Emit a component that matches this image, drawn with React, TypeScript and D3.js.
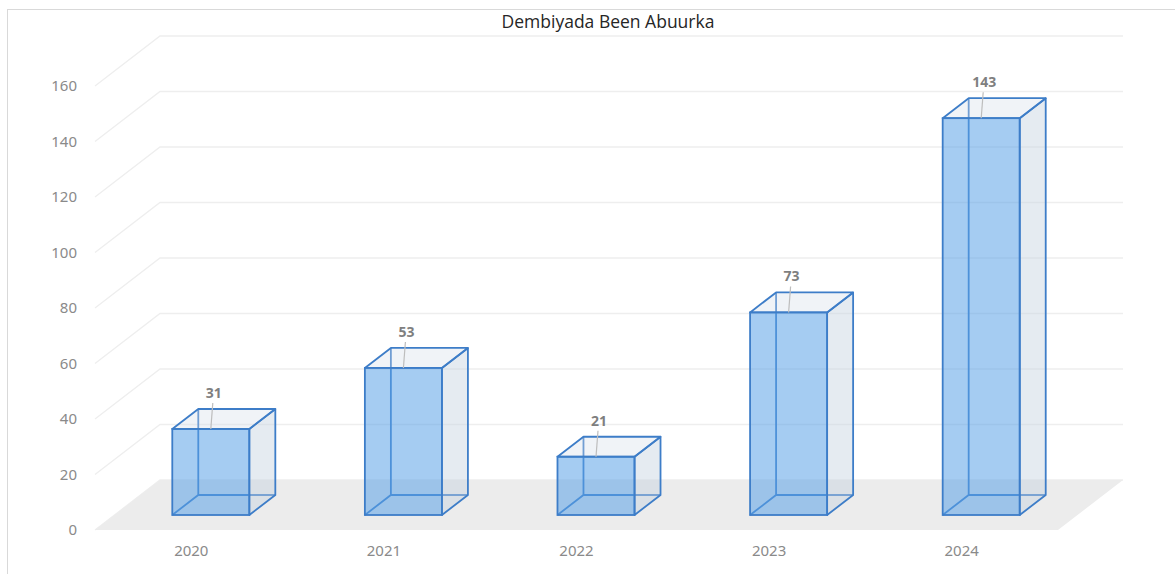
import React from "react"
import * as d3 from "d3"

const years = ["2020", "2021", "2022", "2023", "2024"]
const births = [31, 53, 21, 73, 143]
const yTicks = [0, 20, 40, 60, 80, 100, 120, 140, 160]
const chartTitle = "Dembiyada Been Abuurka"

const W = 1175
const H = 574
// 3D depth offset of the floor / back wall
const depthX = 65
const depthY = -50
// bars sit between 30% and 70% of the depth
const barD0 = 0.3
const barD1 = 0.7

const App: React.FC = () => {
	const x_scale = d3
		.scaleBand()
		.domain(years)
		.range([95, 1058])
		.paddingInner(0.6)
		.paddingOuter(0.3)

	const y_scale = d3.scaleLinear().domain([0, 160]).range([530, 86])

	const bw = x_scale.bandwidth()
	const floorY = y_scale(0)

	const pts = (arr: number[][]) => arr.map((p) => p.join(",")).join(" ")

	const floor = pts([
		[95, floorY],
		[1058, floorY],
		[1058 + depthX, floorY + depthY],
		[95 + depthX, floorY + depthY],
	])

	const stroke = "#3d7dc8"
	const sw = 1.8

	return (
		<svg
			width={W}
			height={H}
			style={{ position: "absolute", left: 0, top: 0, background: "#fff" }}>
			<rect x={7.5} y={9.5} width={W + 20} height={H + 20} fill="#fff" stroke="#d9d9d9" />

			{/* back grid lines */}
			{yTicks.map((t) => {
				const y = y_scale(t)
				return (
					<g key={"g" + t}>
						<path
							d={`M95,${y}L${95 + depthX},${y + depthY}L${1058 + depthX},${y + depthY}`}
							fill="none"
							stroke="#eeeeee"
							strokeWidth={1.3}
						/>
						<text
							x={77}
							y={y + 5}
							textAnchor="end"
							fontFamily="'Noto Sans', sans-serif"
							fontSize={15}
							fill="#8a8a8a">
							{t}
						</text>
					</g>
				)
			})}

			<polygon points={floor} fill="#ececec" />

			{years.map((yr) => (
				<text
					key={"x" + yr}
					x={(x_scale(yr) as number) + bw / 2}
					y={556}
					textAnchor="middle"
					fontFamily="'Noto Sans', sans-serif"
					fontSize={15}
					fill="#8a8a8a">
					{yr}
				</text>
			))}

			{years.map((yr, i) => {
				const v = births[i]
				const x0 = (x_scale(yr) as number) + depthX * barD0
				const x1 = x0 + bw
				const yb = floorY + depthY * barD0
				const yt = y_scale(v) + depthY * barD0
				const ddx = depthX * (barD1 - barD0)
				const ddy = depthY * (barD1 - barD0)
				const cx = x0 + bw / 2
				return (
					<g key={"b" + yr}>
						{/* hidden edges */}
						<path
							d={`M${x0},${yb}L${x0 + ddx},${yb + ddy}L${x1 + ddx},${yb + ddy}M${x0 + ddx},${yb + ddy}L${x0 + ddx},${yt + ddy}`}
							fill="none"
							stroke={stroke}
							strokeWidth={sw}
						/>
						{/* side */}
						<polygon
							points={pts([
								[x1, yt],
								[x1 + ddx, yt + ddy],
								[x1 + ddx, yb + ddy],
								[x1, yb],
							])}
							fill="#c5d2e0"
							fillOpacity={0.45}
							stroke={stroke}
							strokeWidth={sw}
							strokeLinejoin="round"
						/>
						{/* top */}
						<polygon
							points={pts([
								[x0, yt],
								[x1, yt],
								[x1 + ddx, yt + ddy],
								[x0 + ddx, yt + ddy],
							])}
							fill="#d3dde8"
							fillOpacity={0.35}
							stroke={stroke}
							strokeWidth={sw}
							strokeLinejoin="round"
						/>
						{/* front */}
						<rect
							x={x0}
							y={yt}
							width={bw}
							height={yb - yt}
							fill="#5ba3e8"
							fillOpacity={0.55}
							stroke={stroke}
							strokeWidth={sw}
						/>
						<line
							x1={cx + 2}
							y1={yt - 26}
							x2={cx}
							y2={yt}
							stroke="#bdbdbd"
							strokeWidth={1.2}
						/>
						<text
							x={cx + 3}
							y={yt - 31}
							textAnchor="middle"
							fontFamily="'Noto Sans', sans-serif"
							fontWeight="bold"
							fontSize={14}
							fill="#7f7f7f">
							{v}
						</text>
					</g>
				)
			})}

			<text
				x={608}
				y={28}
				textAnchor="middle"
				fontFamily="'Open Sans', sans-serif"
				fontSize={17.5}
				fill="#262626">
				{chartTitle}
			</text>
		</svg>
	)
}

export default App
